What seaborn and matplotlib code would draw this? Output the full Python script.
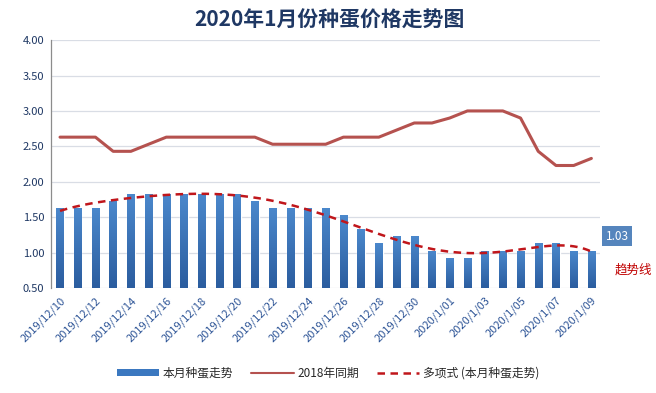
import numpy as np
import pandas as pd
import seaborn as sns
import matplotlib.pyplot as plt
from matplotlib.patches import Patch
from matplotlib.lines import Line2D

# dates 2019/12/10 .. 2020/1/09
dates = [f"2019/12/{d:02d}" for d in range(10, 32)] + [f"2020/1/{d:02d}" for d in range(1, 10)]
this_month = [1.63, 1.63, 1.63, 1.73, 1.83, 1.83, 1.83, 1.83, 1.83, 1.83, 1.83,
              1.73, 1.63, 1.63, 1.63, 1.63, 1.53, 1.33, 1.13, 1.23, 1.23, 1.03,
              0.93, 0.93, 1.03, 1.03, 1.03, 1.13, 1.13, 1.03, 1.03]
same_2018 = [2.63, 2.63, 2.63, 2.43, 2.43, 2.53, 2.63, 2.63, 2.63, 2.63, 2.63,
             2.63, 2.53, 2.53, 2.53, 2.53, 2.63, 2.63, 2.63, 2.73, 2.83, 2.83,
             2.90, 3.00, 3.00, 3.00, 2.90, 2.43, 2.23, 2.23, 2.33]
yticks = [0.5, 1.0, 1.5, 2.0, 2.5, 3.0, 3.5, 4.0]

df = pd.DataFrame({"date": dates, "price": this_month, "y2018": same_2018})
df["pos"] = np.arange(len(df))

sns.set_style("white")
plt.rcParams["font.family"] = ["Noto Sans CJK SC", "DejaVu Sans"]

fig = plt.figure(figsize=(6.56, 3.93), dpi=100)
ax = fig.add_axes([0.078, 0.267, 0.837, 0.631])
ymin, ymax = 0.5, 4.0

sns.barplot(data=df, x="date", y="price", color="#3b78c0", width=0.42,
            ax=ax, zorder=2, saturation=1)

# gradient fill on each bar (only the visible part above ymin)
grad = np.linspace(0, 1, 64).reshape(-1, 1)
cmap = sns.blend_palette(["#2b5d9f", "#4b88cc"], as_cmap=True)
for p in ax.patches:
    x0, w, top = p.get_x(), p.get_width(), p.get_y() + p.get_height()
    im = ax.imshow(grad, extent=[x0, x0 + w, ymin, top], origin="lower",
                   aspect="auto", cmap=cmap, zorder=2.1)
    im.set_clip_path(p)

sns.lineplot(data=df, x="pos", y="y2018", color="#b5524f", lw=2.2, ax=ax, zorder=3)

# polynomial trendline of this month's price
coef = np.polyfit(df["pos"], df["price"], 6)
xs = np.linspace(0, len(df) - 1, 300)
ax.plot(xs, np.polyval(coef, xs), color="#c0161b", lw=1.8, ls=(0, (3, 2.2)), zorder=4)

ax.set_xlim(-0.5, len(df) - 0.5)
ax.set_ylim(ymin, ymax)
ax.set_yticks(yticks)
ax.set_yticklabels([f"{v:.2f}" for v in yticks], color="#1f3864", fontsize=8)
ax.set_xticks(df["pos"][::2])
ax.set_xticklabels(df["date"][::2], rotation=45, ha="right", rotation_mode="anchor",
                   color="#2e5597", fontsize=8)
ax.tick_params(axis="both", length=0, pad=5)
ax.set_xlabel("")
ax.set_ylabel("")
ax.grid(axis="y", color="#d9dde5", lw=0.9, zorder=0)
ax.set_axisbelow(True)
for s in ["top", "right", "bottom"]:
    ax.spines[s].set_visible(False)
ax.spines["left"].set_color("#8c8c8c")
ax.spines["left"].set_linewidth(0.9)

fig.suptitle("2020年1月份种蛋价格走势图", x=0.503, y=0.975, fontsize=15,
             fontweight="bold", color="#1f3864")

# last value label and trendline note
ax.text(len(df) - 0.2, this_month[-1] + 0.2, f"{this_month[-1]:.2f}", color="white",
        fontsize=8.5, ha="left", va="center", zorder=5,
        bbox=dict(boxstyle="square,pad=0.3", fc="#5585bd", ec="none"))
ax.text(len(df) + 0.3, 0.75, "趋势线", color="#c00000", fontsize=9,
        ha="left", va="center", clip_on=False)

handles = [Patch(facecolor="#3b78c0", edgecolor="none"),
           Line2D([], [], color="#b5524f", lw=1.5),
           Line2D([], [], color="#c0161b", lw=1.8, ls=(0, (3, 2.2)))]
labels = ["本月种蛋走势", "2018年同期", "多项式 (本月种蛋走势)"]
fig.legend(handles, labels, loc="center", bbox_to_anchor=(0.5, 0.05), ncol=3,
           frameon=False, fontsize=8.5, handlelength=3.6, handleheight=0.5,
           columnspacing=1.5, handletextpad=0.3)

fig.savefig("out.png", dpi=100)
